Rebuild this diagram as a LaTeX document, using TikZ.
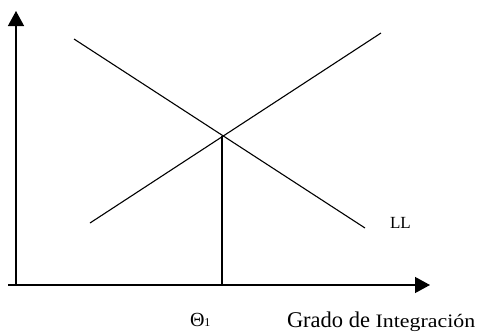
\documentclass[tikz,border=0pt]{standalone}
\usepackage{fontspec}
\setmainfont{Liberation Serif}
\newfontfamily\widefont[FakeStretch=1.15]{Liberation Serif}
\usetikzlibrary{arrows.meta}

\begin{document}
\begin{tikzpicture}[x=1pt,y=-1pt,
  axis/.style={draw=black,line width=1.3pt,-{Triangle[length=15pt,width=16pt]}},
  curve/.style={draw=black,line width=1.1pt},
  drop/.style={draw=black,line width=2pt},
  label/.style={inner sep=0pt,outer sep=0pt,anchor=base west,text=black}]
\path[use as bounding box] (0,0) rectangle (480,333);
\path[fill=white,draw=none] (0,0) rectangle (480,333);
% axes
\coordinate (yfoot) at (16,285);
\coordinate (ytop) at (16,11);
\coordinate (xstart) at (8,285);
\coordinate (xend) at (430,285);
\draw[axis] (yfoot) -- (ytop);
\draw[axis] (xstart) -- (xend);
% the two schedules
\coordinate (llstart) at (74,39);
\coordinate (llend) at (365,228);
\coordinate (upstart) at (90,223);
\coordinate (upend) at (381,33);
\draw[curve] (llstart) -- (llend);
\draw[curve] (upstart) -- (upend);
% equilibrium
\coordinate (equil) at (222,136);
\coordinate (equilfoot) at (222,285);
\draw[drop] (equil) -- (equilfoot);
% labels
\node[label,font=\fontsize{17}{17}\selectfont] (ll) at (390,228) {LL};
\node[label,font=\fontsize{20}{20}\selectfont] (theta) at (190,326) {Θ{\fontsize{12}{12}\selectfont 1}};
\node[label,font=\fontsize{22.5}{22.5}\selectfont] (grado) at (287,327) {Grado de {\widefont\fontsize{19}{19}\selectfont Integración}};
\end{tikzpicture}
\end{document}
